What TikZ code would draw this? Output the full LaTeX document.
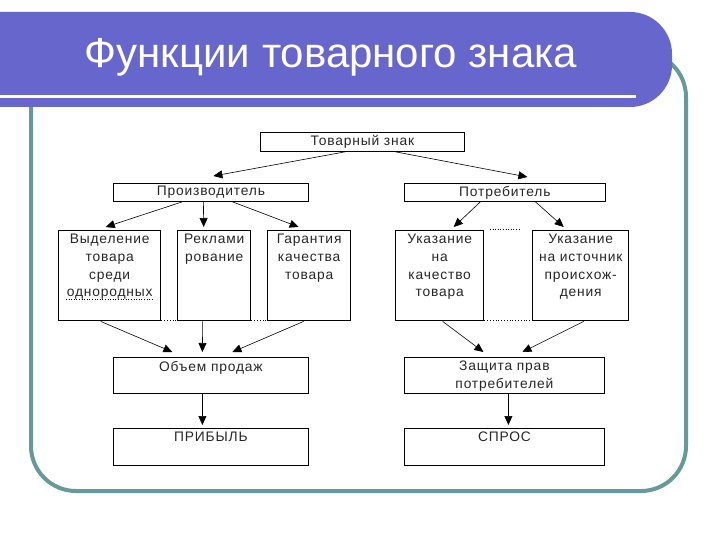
\documentclass[tikz,border=0pt]{standalone}
\usepackage{fontspec}
\setmainfont{Liberation Sans}
\newfontfamily\boxfont{Liberation Sans}[LetterSpace=6]
\usetikzlibrary{arrows.meta}
\definecolor{banner}{HTML}{6666CC}
\definecolor{framec}{HTML}{669999}
\begin{document}
\begin{tikzpicture}[x=1pt,y=-1pt,
  box/.style={draw=black, line width=0.8pt, inner sep=0pt, anchor=north west},
  midbox/.style={box, line width=1.4pt},
  txt/.style={font=\boxfont\fontsize{13.8}{17.7}\selectfont, align=center, inner sep=0pt, text=black!85},
  arr/.style={-{Triangle[length=9pt,width=8pt]}, line width=0.6pt},
  gapdots/.style={dotted, line width=0.8pt}]
\useasboundingbox (0,0) rectangle (720,540);
% frame
\draw[framec, line width=4pt, rounded corners=45pt] (31,52) rectangle (686,491);
% banner
\fill[banner] (0,12) [rounded corners=42pt] -- (672,12) -- (672,107) [sharp corners] -- (0,107) -- cycle;
\fill[white] (0,95) rectangle (636,98);
\node[font=\fontsize{42}{46}\selectfont, text=white, inner sep=0pt] (title) at (331,57) {Функции товарного знака};
% boxes
\node[box, minimum width=204pt, minimum height=19pt] (tz) at (260,132) {};
\node[txt] at (tz.center) {Товарный знак};
\node[box, minimum width=195pt, minimum height=18pt] (pr) at (113,183) {};
\node[txt] at (pr.center) {Производитель};
\node[box, minimum width=201pt, minimum height=18pt] (po) at (404,183) {};
\node[txt] at (po.center) {Потребитель};
\node[midbox, minimum width=102pt, minimum height=90pt] (vyd) at (58,230) {};
\node[txt, anchor=north] at ([yshift=-4pt]vyd.north) {Выделение\\товара\\среди\\однородных};
\node[midbox, minimum width=73pt, minimum height=90pt] (rek) at (177,230) {};
\node[txt, anchor=north] at ([yshift=-4pt]rek.north) {Реклами\\рование};
\node[midbox, minimum width=83pt, minimum height=90pt] (gar) at (267,230) {};
\node[txt, anchor=north] at ([yshift=-4pt]gar.north) {Гарантия\\качества\\товара};
\node[midbox, minimum width=88pt, minimum height=90pt] (uk1) at (395,230) {};
\node[txt, anchor=north] at ([yshift=-4pt]uk1.north) {Указание\\на\\качество\\товара};
\node[midbox, minimum width=96pt, minimum height=90pt] (uk2) at (532,230) {};
\node[txt, anchor=north] at ([yshift=-4pt]uk2.north) {Указание\\на источник\\происхож-\\дения};
\node[box, minimum width=195pt, minimum height=36pt] (ob) at (113,357) {};
\node[txt, anchor=north] at ([yshift=-4pt]ob.north) {Объем продаж};
\node[box, minimum width=200pt, minimum height=36pt] (za) at (404,357) {};
\node[txt, anchor=north] at ([yshift=-4pt]za.north) {Защита прав\\потребителей};
\node[box, minimum width=195pt, minimum height=37pt] (pb) at (113,428) {};
\node[txt, anchor=north] at ([yshift=-4pt]pb.north) {ПРИБЫЛЬ};
\node[box, minimum width=200pt, minimum height=37pt] (sp) at (404,428) {};
\node[txt, anchor=north] at ([yshift=-4pt]sp.north) {СПРОС};
% dotted gaps
\draw[gapdots] ([yshift=1pt]vyd.south east) -- ([yshift=1pt]rek.south west);
\draw[gapdots] ([yshift=1pt]rek.south east) -- ([yshift=1pt]gar.south west);
\draw[gapdots] ([yshift=1pt]uk1.south east) -- ([yshift=1pt]uk2.south west);
\draw[dotted, line width=0.6pt] (490,229) -- (520,229);
\draw[dotted, line width=0.6pt] (66,299.5) -- (153,299.5);
% arrows
\draw[arr] ([xshift=-17pt]tz.south) -- ([xshift=2.5pt,yshift=7pt]pr.north);
\draw[arr] ([xshift=33pt]tz.south) -- ([xshift=22.5pt,yshift=6pt]po.north);
\draw[arr] ([xshift=-28.5pt]pr.south) -- ([xshift=-4pt,yshift=3pt]vyd.north);
\draw[arr] ([xshift=-7.5pt]pr.south) -- ([xshift=-10.5pt,yshift=3pt]rek.north);
\draw[arr] ([xshift=21.5pt]pr.south) -- ([xshift=-10.5pt,yshift=3pt]gar.north);
\draw[arr] ([xshift=-24.5pt]po.south) -- ([xshift=14pt,yshift=3pt]uk1.north);
\draw[arr] ([xshift=30.5pt]po.south) -- ([xshift=-17pt,yshift=3pt]uk2.north);
\draw[arr] ([xshift=-9pt]vyd.south) -- ([xshift=-38.5pt,yshift=5pt]ob.north);
\draw[arr] ([xshift=-11.5pt]rek.south) -- ([xshift=-8.5pt,yshift=5pt]ob.north);
\draw[arr] ([xshift=-5.5pt]gar.south) -- ([xshift=21.5pt,yshift=5pt]ob.north);
\draw[arr] ([xshift=3pt]uk1.south) -- ([xshift=-21pt,yshift=5pt]za.north);
\draw[arr] ([xshift=3pt]uk2.south) -- ([xshift=18pt,yshift=5pt]za.north);
\draw[arr] ([xshift=-8.5pt]ob.south) -- ([xshift=-8.5pt,yshift=3pt]pb.north);
\draw[arr] ([xshift=4pt]za.south) -- ([xshift=4pt,yshift=3pt]sp.north);
\end{tikzpicture}
\end{document}
